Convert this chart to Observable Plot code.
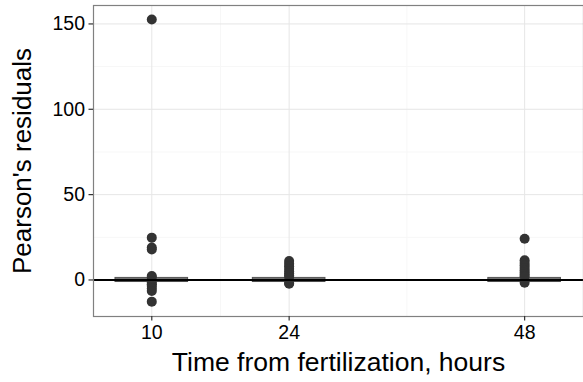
<!DOCTYPE html>
<html><head><meta charset="utf-8">
<script src="https://cdn.jsdelivr.net/npm/d3@7"></script>
<script src="https://cdn.jsdelivr.net/npm/@observablehq/plot@0.6"></script>
<style>
body{margin:0;background:#fff}
#chart svg{font-family:"Liberation Sans",Arial,Helvetica,sans-serif;background:#fff}
</style></head><body><div id="chart"></div>
<script>
// Categories (hours from fertilization)
const times = [10, 24, 48];
// Box statistics per time point
const q1 = [-1.2, -1.2, -1.2];
const medians = [0, 0, 0];
const q3 = [1.2, 1.2, 1.2];
const whiskerLo = [-1.6, -1.6, -1.4];
const whiskerHi = [1.6, 1.6, 1.6];
// Outlying residuals per time point
const outliers10 = [152.6, 24.8, 19, 17.8, 2.3, 1.5, -1.5, -2.5, -3.5, -5, -6.5, -12.7];
const outliers24 = [11.1, 9.5, 8, 6.5, 5, 3.8, 2.6, 1.8, -1.8, -2.2];
const outliers48 = [24.1, 11.5, 10, 8.5, 7, 5.5, 4.2, 3, 2, -1.6];
// Axis ticks
const xTicks = [10, 24, 48];
const xMinor = [17, 36];
const yTicks = [0, 50, 100, 150];
const yMinor = [25, 75, 125];

const halfWidth = 3.7;
const boxes = times.map((t, i) => ({t, x1: t - halfWidth, x2: t + halfWidth, q1: q1[i], med: medians[i], q3: q3[i], lo: whiskerLo[i], hi: whiskerHi[i]}));
const pts = [
  ...outliers10.map(v => ({t: 10, v})),
  ...outliers24.map(v => ({t: 24, v})),
  ...outliers48.map(v => ({t: 48, v}))
];

const plot = Plot.plot({
  width: 583, height: 382,
  marginLeft: 93, marginRight: 0, marginTop: 5, marginBottom: 66,
  x: {domain: [4.06, 54]},
  y: {domain: [-21.4, 160.8]},
  marks: [
    Plot.gridY(yMinor, {stroke: "#f7f7f7", strokeOpacity: 1}),
    Plot.gridX(xMinor, {stroke: "#f7f7f7", strokeOpacity: 1}),
    Plot.gridY(yTicks, {stroke: "#e6e6e6", strokeOpacity: 1}),
    Plot.gridX(xTicks, {stroke: "#e6e6e6", strokeOpacity: 1}),
    Plot.ruleX(boxes, {x: "t", y1: "lo", y2: "hi", stroke: "#333", strokeWidth: 1}),
    Plot.rect(boxes, {x1: "x1", x2: "x2", y1: "q1", y2: "q3", fill: "#888", stroke: "#555", strokeWidth: 1}),
    Plot.ruleY(boxes, {x1: "x1", x2: "x2", y: "med", stroke: "#333", strokeWidth: 2.5}),
    Plot.dot(pts, {x: "t", y: "v", r: 5, fill: "#333", stroke: "none"}),
    Plot.ruleY([0], {stroke: "#000", strokeWidth: 2}),
    Plot.frame({stroke: "#808080", strokeWidth: 1.2}),
    Plot.axisY(yTicks, {tickSize: 4.5, tickPadding: 4, fontSize: 19.5, stroke: "#333", strokeWidth: 1.2, fill: "#000", label: null}),
    Plot.axisX(xTicks, {tickSize: 4.5, tickPadding: 4, fontSize: 19.5, stroke: "#333", strokeWidth: 1.2, fill: "#000", label: null}),
    Plot.text(["Pearson's residuals"], {frameAnchor: "left", dx: -71, rotate: -90, textAnchor: "middle", lineAnchor: "middle", fontSize: 26, fill: "#000"}),
    Plot.text(["Time from fertilization, hours"], {frameAnchor: "bottom", dy: 46, textAnchor: "middle", lineAnchor: "middle", fontSize: 26.5, fill: "#000"})
  ]
});
document.getElementById("chart").appendChild(plot);
</script></body></html>
